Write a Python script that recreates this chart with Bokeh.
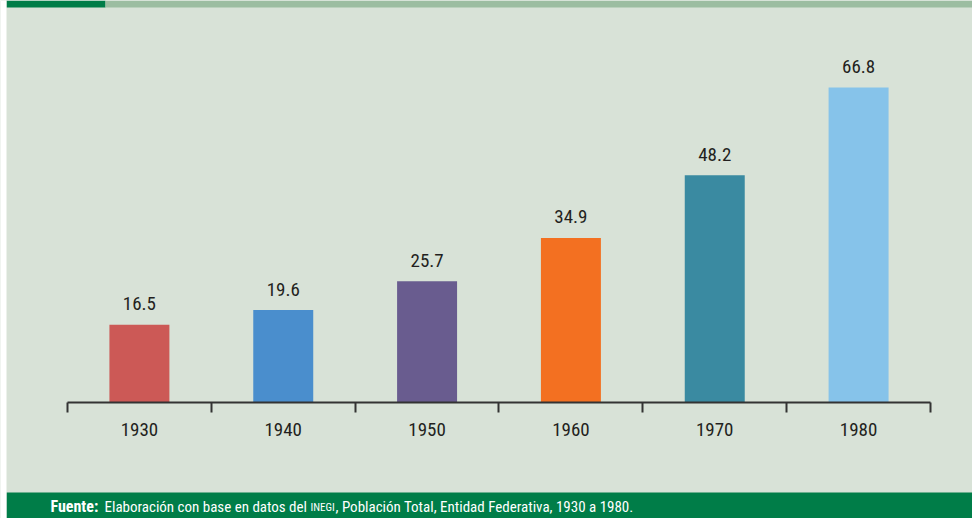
from bokeh.plotting import figure
from bokeh.models import FixedTicker, Range1d, BoxAnnotation, Label, LinearAxis
from bokeh.core.properties import value
from bokeh.embed import file_html
from bokeh.resources import INLINE

# ---- data ----
years = ["1930", "1940", "1950", "1960", "1970", "1980"]
values = [16.5, 19.6, 25.7, 34.9, 48.2, 66.8]
labels = ["16.5", "19.6", "25.7", "34.9", "48.2", "66.8"]
bar_colors = ["#CC5956", "#4A8ECD", "#695C8F", "#F37021", "#3A8AA1", "#86C3EA"]
source_text = ["Fuente:", "Elaboración con base en datos del", "INEGI",
               ", Población Total, Entidad Federativa, 1930 a 1980."]

# ---- style ----
BG = "#D8E2D7"
GREEN = "#007D48"
LIGHT = "#9CBDA1"
FONT = "Roboto Condensed, DejaVu Sans Condensed, sans-serif"
INK = "#231F20"

W, H = 972, 518
n = len(years)
xs = [i + 0.5 for i in range(n)]

p = figure(width=W, height=H, output_backend="svg", toolbar_location=None,
           x_range=Range1d(-0.4658, n + 0.292), y_range=Range1d(-24.6, 85.25),
           min_border=0, x_axis_location=None, y_axis_location=None)
p.background_fill_color = BG
p.border_fill_color = BG
p.outline_line_color = None
p.grid.visible = False

p.vbar(x=xs, top=values, bottom=0, width=0.417, fill_color=bar_colors,
       line_color=None)

p.text(x=xs, y=values, text=labels, text_font=value(FONT),
       text_font_size="19px", text_color=INK, text_align="center",
       text_baseline="alphabetic", y_offset=-21)

ax = LinearAxis(fixed_location=0, bounds=(0, n))
ax.ticker = FixedTicker(ticks=xs, minor_ticks=list(range(n + 1)))
ax.major_label_overrides = {x: y for x, y in zip(xs, years)}
ax.major_tick_in = 0
ax.major_tick_out = 0
ax.minor_tick_in = 0
ax.minor_tick_out = 10
ax.minor_tick_line_color = "#333333"
ax.minor_tick_line_width = 2
ax.axis_line_color = "#333333"
ax.axis_line_width = 2
ax.major_label_text_font = FONT
ax.major_label_text_font_size = "19px"
ax.major_label_text_color = INK
ax.major_label_standoff = 11
p.add_layout(ax, "below")


def box(l, r, t, b, color):
    p.add_layout(BoxAnnotation(left=l, right=r, top=t, bottom=b,
                               left_units="screen", right_units="screen",
                               top_units="screen", bottom_units="screen",
                               fill_color=color, fill_alpha=1, line_color=None,
                               level="underlay"))


# top strip (screen y measured up from bottom)
box(6, 105, H, H - 7, GREEN)
box(105, W, H, H - 7, LIGHT)
# footer band
box(6, W, 26, 0, GREEN)
# white left margin
box(0, 6, H, 0, "white")

common = dict(x_units="screen", y_units="screen", text_font=FONT,
              text_color="white", text_baseline="middle", level="overlay")
p.add_layout(Label(x=50, y=12, text=source_text[0], text_font_size="16px",
                   text_font_style="bold", **common))
p.add_layout(Label(x=104, y=12, text=source_text[1], text_font_size="15px",
                   **common))
p.add_layout(Label(x=310, y=11, text=source_text[2], text_font_size="11px",
                   **common))
p.add_layout(Label(x=335, y=12, text=source_text[3], text_font_size="15px",
                   **common))

open("out.html", "w").write(file_html(p, INLINE))
